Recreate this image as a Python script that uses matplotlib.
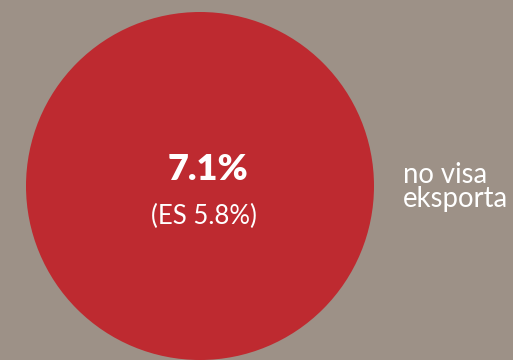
import matplotlib
matplotlib.use('Agg')
import matplotlib.pyplot as plt
from matplotlib.patches import Circle

# data
value = 7.1
es_value = 5.8
label_lines = ['no visa', 'eksporta']

bg = '#9d9187'
red = '#be2a30'

fig = plt.figure(figsize=(5.13, 3.6), dpi=100)
fig.patch.set_facecolor(bg)
ax = fig.add_axes([0, 0, 1, 1])
ax.set_xlim(0, 513)
ax.set_ylim(360, 0)
ax.set_aspect('equal')
ax.axis('off')

ax.add_patch(Circle((200, 186), 174, color=red, lw=0))

ax.text(208, 170, '%.1f%%' % value, color='white', fontsize=26,
        fontweight='heavy', family='Lato', ha='center', va='center')
ax.text(204, 216, '(ES %.1f%%)' % es_value, color='white', fontsize=18.5,
        fontweight='normal', family='Lato', ha='center', va='center')
ax.text(403, 187, '\n'.join(label_lines), color='white', fontsize=19.8,
        fontweight='normal', family='Lato', ha='left', va='center',
        linespacing=0.92)

fig.savefig('out.png', dpi=100, facecolor=bg)
